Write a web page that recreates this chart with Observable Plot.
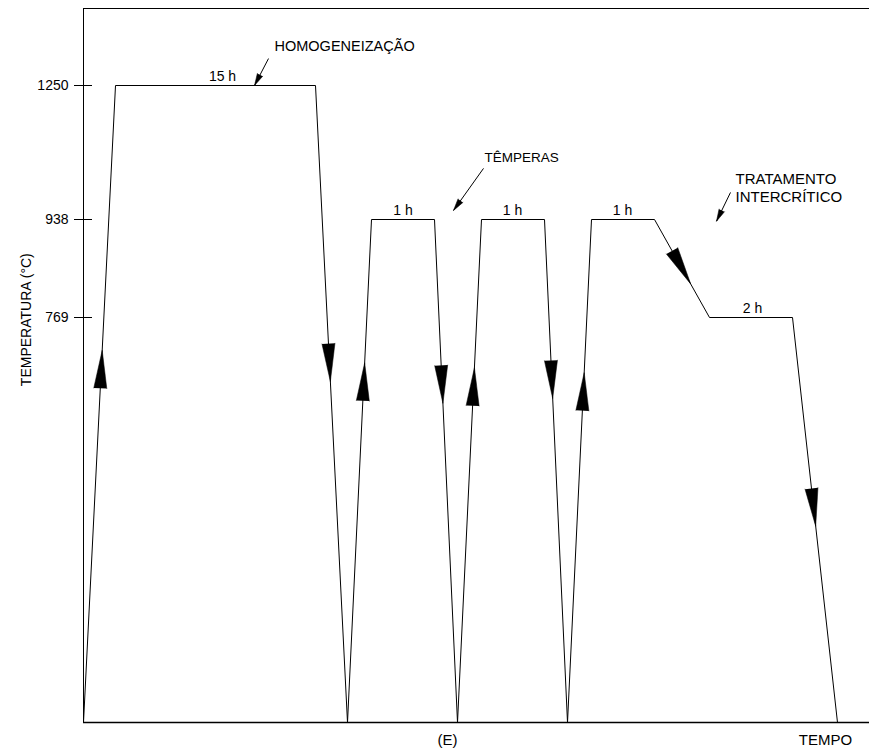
<!DOCTYPE html>
<html><head><meta charset="utf-8">
<script src="https://cdn.jsdelivr.net/npm/d3@7"></script>
<script src="https://cdn.jsdelivr.net/npm/@observablehq/plot@0.6"></script>
<style>body{margin:0;background:#fff} svg{display:block}</style>
</head><body><div id="chart"></div>
<script>
// Schematic heat-treatment cycle (time in arbitrary units, temperature in °C)
const times = [0, 32, 232, 264, 288, 351, 374, 398, 461, 484, 508, 571, 626, 709, 754];
const temps = [25, 1250, 1250, 25, 938, 938, 25, 938, 938, 25, 938, 938, 769, 769, 25];
const yTicks = [1250, 938, 769];

// direction arrows: segment index and temperature at arrow base
const arrowSegments = [0, 2, 3, 5, 6, 8, 9, 11, 13];
const arrowBaseTemps = [639, 721, 616, 681, 607, 690, 598, 884, 455];

// hold-time labels
const holdLabels = ["15 h", "1 h", "1 h", "1 h", "2 h"];
const holdTimes = [139, 319.5, 429, 539, 669];
const holdTemps = [1250, 938, 938, 938, 769];

// annotations
const noteTexts = ["HOMOGENEIZAÇÃO", "TÊMPERAS", "TRATAMENTO", "INTERCRÍTICO"];
const noteTimes = [191, 401, 652, 652];
const noteTemps = [1341, 1082, 1033, 989];
const leaderFromTimes = [185, 400, 647];
const leaderFromTemps = [1313, 1057, 1001];
const leaderToTimes = [171, 370, 633];
const leaderToTemps = [1250, 959, 935];

// the schematic temperature axis is not to scale: piecewise-linear breaks
const tempBreaks = [25, 769, 938, 1250, 1430];
const levelBreaks = [0, 405, 503, 637, 714];
const level = d3.scaleLinear(tempBreaks, levelBreaks);

const W = 869, H = 749, mL = 83, mR = 0, mT = 8, mB = 27;
const xDomain = [0, 786];
// helpers only used to orient the arrowheads
const xPx = d3.scaleLinear(xDomain, [mL, W - mR]);
const yPx = d3.scaleLinear([0, 714], [H - mB, mT]);
function angleDeg(x0, T0, x1, T1) {
  const dx = xPx(x1) - xPx(x0), dy = yPx(level(T1)) - yPx(level(T0));
  return Math.atan2(dx, -dy) * 180 / Math.PI;
}

const path = times.map((t, i) => ({t, T: temps[i]}));
const arrows = arrowSegments.map((s, k) => {
  const a = path[s], b = path[s + 1];
  const f = (level(arrowBaseTemps[k]) - level(a.T)) / (level(b.T) - level(a.T));
  return {t: a.t + f * (b.t - a.t), T: arrowBaseTemps[k], rot: angleDeg(a.t, a.T, b.t, b.T)};
});
const holds = holdLabels.map((s, i) => ({s, t: holdTimes[i], T: holdTemps[i]}));
const notes = noteTexts.map((s, i) => ({s, t: noteTimes[i], T: noteTemps[i]}));
const leaders = leaderFromTimes.map((t, i) => ({
  t1: t, T1: leaderFromTemps[i], t2: leaderToTimes[i], T2: leaderToTemps[i],
  rot: angleDeg(t, leaderFromTemps[i], leaderToTimes[i], leaderToTemps[i])
}));

const font = "'Liberation Sans', Arial, sans-serif";

const plot = Plot.plot({
  width: W, height: H,
  marginLeft: mL, marginRight: mR, marginTop: mT, marginBottom: mB,
  style: {fontFamily: font, background: "#fff", color: "#000", overflow: "visible"},
  x: {domain: xDomain, axis: null},
  y: {domain: [0, 714], transform: level, axis: null},
  marks: [
    Plot.ruleX([0], {y1: 25, y2: 1430, stroke: "#000", strokeWidth: 1}),
    Plot.ruleY([1430], {x1: 0, x2: 786, stroke: "#000", strokeWidth: 1}),
    Plot.ruleY([25], {x1: 0, x2: 786, stroke: "#000", strokeWidth: 1.6}),
    Plot.ruleY(yTicks, {x1: -9, x2: 9, stroke: "#000", strokeWidth: 1}),
    Plot.text(yTicks, {x: 0, y: d => d, text: d => String(d), dx: -15, textAnchor: "end", fontSize: 14}),
    Plot.text(["TEMPERATURA (°C)"], {x: 0, y: 765, dx: -57, rotate: -90, fontSize: 14}),
    Plot.text(["(E)"], {x: 364, y: 25, dy: 18, fontSize: 15}),
    Plot.text(["TEMPO"], {x: 742, y: 25, dy: 18, fontSize: 15}),
    Plot.line(path, {x: "t", y: "T", stroke: "#000", strokeWidth: 1}),
    Plot.vector(arrows, {x: "t", y: "T", rotate: "rot", length: 38, r: 6.5, shape: "spike",
      anchor: "start", fill: "#000", stroke: "#000", strokeWidth: 0.5}),
    Plot.text(holds, {x: "t", y: "T", text: "s", dy: -9, fontSize: 14}),
    Plot.text(notes.slice(0, 1), {x: "t", y: "T", text: "s", fontSize: 14.5, textAnchor: "start"}),
    Plot.text(notes.slice(1, 2), {x: "t", y: "T", text: "s", fontSize: 13.5, textAnchor: "start"}),
    Plot.text(notes.slice(2), {x: "t", y: "T", text: "s", fontSize: 15, textAnchor: "start"}),
    Plot.link(leaders, {x1: "t1", y1: "T1", x2: "t2", y2: "T2", stroke: "#000", strokeWidth: 1}),
    Plot.vector(leaders, {x: "t2", y: "T2", rotate: "rot", length: 12, r: 3, shape: "spike",
      anchor: "end", fill: "#000", stroke: "#000", strokeWidth: 0.5})
  ]
});
document.getElementById("chart").appendChild(plot);
</script>
</body></html>
